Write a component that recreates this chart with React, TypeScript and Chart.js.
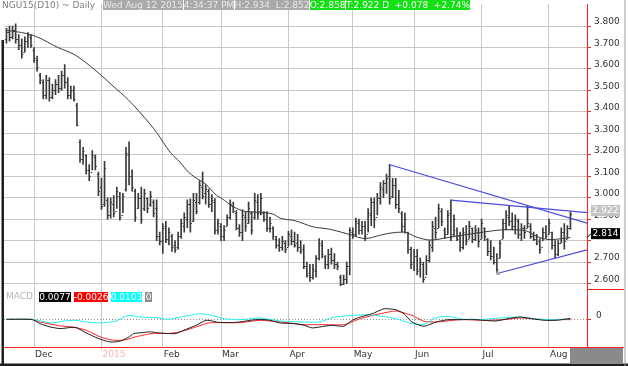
import React, { useEffect, useRef } from "react";
import { Chart, registerables } from "chart.js";

Chart.register(...registerables);

// ---------- data ----------
const monthTicks = [9, 31, 51, 70, 92, 113, 133, 155, 177];
const monthLabels = ["Dec", "2015", "Feb", "Mar", "Apr", "May", "Jun", "Jul", "Aug"];
const priceTicks = [2.6, 2.7, 2.8, 2.9, 3.0, 3.1, 3.2, 3.3, 3.4, 3.5, 3.6, 3.7, 3.8];
const macdTicks = [0];

const highs = [
  3.79, 3.8, 3.8, 3.81, 3.76, 3.74, 3.75, 3.77, 3.76, 3.7,
  3.66, 3.58, 3.55, 3.57, 3.56, 3.53, 3.55, 3.57, 3.59, 3.62,
  3.56, 3.52, 3.52, 3.44, 3.27, 3.235, 3.2, 3.155, 3.22, 3.2,
  3.12, 3.09, 3.17, 3.0, 3.0, 3.01, 3.05, 3.025, 3.02, 3.235,
  3.26, 3.13, 3.04, 3.02, 3.05, 3.04, 3.0, 3.03, 2.99, 2.99,
  2.84, 2.88, 2.89, 2.86, 2.83, 2.8, 2.84, 2.9, 2.93, 2.99,
  2.995, 3.02, 3.02, 3.08, 3.12, 3.06, 3.04, 3.015, 2.996, 2.9,
  2.88, 2.87, 2.92, 2.99, 2.98, 2.94, 2.875, 2.944, 2.935, 2.98,
  2.935, 3.02, 3.015, 3.02, 2.935, 2.935, 2.91, 2.866, 2.82, 2.81,
  2.82, 2.8, 2.843, 2.85, 2.84, 2.83, 2.8, 2.78, 2.7, 2.69,
  2.69, 2.73, 2.81, 2.8, 2.73, 2.76, 2.765, 2.74, 2.7, 2.64,
  2.64, 2.7, 2.86, 2.86, 2.905, 2.9, 2.89, 2.89, 2.95, 3.0,
  3.0, 3.02, 3.07, 3.08, 3.11, 3.155, 3.09, 3.09, 3.035, 2.935,
  2.93, 2.84, 2.77, 2.76, 2.76, 2.72, 2.7, 2.73, 2.8, 2.89,
  2.91, 2.97, 2.95, 2.86, 2.94, 2.99, 2.92, 2.86, 2.84, 2.86,
  2.87, 2.89, 2.86, 2.87, 2.86, 2.9, 2.86, 2.81, 2.8, 2.77,
  2.74, 2.8, 2.9, 2.94, 2.96, 2.93, 2.92, 2.9, 2.88, 2.87,
  2.96, 2.88, 2.84, 2.83, 2.81, 2.86, 2.87, 2.9, 2.84, 2.8,
  2.8, 2.86, 2.88, 2.87, 2.934,
];
const lows = [
  3.72, 3.73, 3.74, 3.72, 3.69, 3.65, 3.68, 3.7, 3.7, 3.63,
  3.59, 3.53, 3.46, 3.46, 3.45, 3.46, 3.48, 3.49, 3.5, 3.51,
  3.46, 3.46, 3.45, 3.335, 3.165, 3.155, 3.11, 3.08, 3.13, 3.13,
  3.01, 2.945, 2.96, 2.9, 2.905, 2.91, 2.95, 2.895, 2.93, 3.03,
  3.06, 3.03, 2.89, 2.95, 2.88, 2.94, 2.93, 2.96, 2.91, 2.8,
  2.78, 2.74, 2.79, 2.78, 2.75, 2.745, 2.76, 2.81, 2.84, 2.86,
  2.84, 2.89, 2.925, 2.97, 2.995, 2.97, 2.955, 2.935, 2.83, 2.83,
  2.8, 2.8, 2.87, 2.9, 2.93, 2.85, 2.82, 2.8, 2.843, 2.88,
  2.83, 2.9, 2.9, 2.92, 2.89, 2.843, 2.84, 2.806, 2.765, 2.75,
  2.755, 2.744, 2.774, 2.78, 2.77, 2.75, 2.74, 2.67, 2.63, 2.61,
  2.62, 2.63, 2.71, 2.72, 2.67, 2.67, 2.69, 2.67, 2.665, 2.59,
  2.595, 2.6, 2.64, 2.81, 2.82, 2.83, 2.83, 2.8, 2.84, 2.87,
  2.86, 2.92, 2.97, 3.0, 3.02, 2.97, 3.0, 2.95, 2.93, 2.84,
  2.835, 2.74, 2.67, 2.66, 2.64, 2.63, 2.605, 2.64, 2.7, 2.75,
  2.81, 2.86, 2.87, 2.81, 2.83, 2.8, 2.82, 2.8, 2.75, 2.76,
  2.78, 2.81, 2.79, 2.8, 2.77, 2.81, 2.8, 2.73, 2.71, 2.69,
  2.65, 2.72, 2.81, 2.85, 2.87, 2.85, 2.83, 2.81, 2.8, 2.81,
  2.86, 2.81, 2.8, 2.78, 2.74, 2.8, 2.81, 2.83, 2.76, 2.72,
  2.73, 2.79, 2.76, 2.81, 2.852,
];
const opens = [
  3.74, 3.77, 3.75, 3.78, 3.74, 3.71, 3.68, 3.73, 3.75, 3.69,
  3.64, 3.57, 3.54, 3.48, 3.55, 3.47, 3.5, 3.53, 3.51, 3.57,
  3.54, 3.48, 3.5, 3.43, 3.26, 3.18, 3.2, 3.13, 3.12, 3.19,
  3.11, 3.05, 2.97, 2.99, 2.92, 2.97, 2.94, 3.01, 2.92, 3.04,
  3.2, 3.1, 3.03, 2.95, 3.0, 2.95, 3.0, 2.97, 2.98, 2.95,
  2.82, 2.8, 2.87, 2.81, 2.82, 2.78, 2.77, 2.82, 2.87, 2.9,
  2.97, 2.89, 2.98, 2.98, 3.05, 3.02, 3.03, 2.97, 2.98, 2.85,
  2.87, 2.82, 2.87, 2.91, 2.96, 2.93, 2.86, 2.84, 2.91, 2.88,
  2.93, 2.91, 2.98, 2.94, 2.93, 2.9, 2.86, 2.86, 2.81, 2.78,
  2.77, 2.79, 2.77, 2.82, 2.8, 2.79, 2.77, 2.76, 2.68, 2.65,
  2.63, 2.66, 2.72, 2.78, 2.73, 2.69, 2.74, 2.71, 2.69, 2.63,
  2.6, 2.62, 2.68, 2.84, 2.83, 2.88, 2.85, 2.87, 2.83, 2.92,
  2.98, 2.91, 3.0, 3.04, 3.07, 3.1, 3.01, 3.06, 2.97, 2.93,
  2.87, 2.84, 2.76, 2.7, 2.73, 2.67, 2.69, 2.63, 2.71, 2.77,
  2.86, 2.86, 2.94, 2.85, 2.83, 2.93, 2.83, 2.85, 2.82, 2.77,
  2.83, 2.81, 2.86, 2.81, 2.84, 2.81, 2.86, 2.81, 2.75, 2.73,
  2.7, 2.72, 2.81, 2.88, 2.91, 2.89, 2.87, 2.89, 2.83, 2.86,
  2.86, 2.87, 2.82, 2.81, 2.8, 2.77, 2.84, 2.83, 2.84, 2.78,
  2.74, 2.79, 2.84, 2.81, 2.858,
];
const closes = [
  3.77, 3.75, 3.78, 3.74, 3.71, 3.67, 3.73, 3.76, 3.71, 3.65,
  3.61, 3.55, 3.48, 3.55, 3.47, 3.5, 3.53, 3.51, 3.57, 3.54,
  3.48, 3.5, 3.46, 3.34, 3.18, 3.22, 3.13, 3.1, 3.2, 3.15,
  3.03, 2.96, 3.14, 2.92, 2.98, 2.93, 3.03, 2.91, 3.01, 3.21,
  3.1, 3.05, 2.91, 3.0, 2.9, 3.02, 2.95, 3.01, 2.93, 2.82,
  2.8, 2.86, 2.81, 2.84, 2.77, 2.76, 2.82, 2.88, 2.91, 2.97,
  2.88, 2.99, 2.94, 3.06, 3.01, 3.04, 2.97, 2.99, 2.85, 2.88,
  2.82, 2.85, 2.91, 2.97, 2.94, 2.86, 2.84, 2.92, 2.87, 2.95,
  2.85, 2.99, 2.93, 3.0, 2.9, 2.86, 2.88, 2.82, 2.78, 2.77,
  2.8, 2.76, 2.83, 2.8, 2.78, 2.77, 2.75, 2.68, 2.64, 2.63,
  2.67, 2.72, 2.79, 2.74, 2.69, 2.74, 2.71, 2.69, 2.68, 2.6,
  2.62, 2.68, 2.85, 2.83, 2.89, 2.85, 2.87, 2.82, 2.93, 2.98,
  2.9, 3.0, 3.05, 3.07, 3.09, 3.0, 3.06, 2.97, 2.95, 2.87,
  2.9, 2.76, 2.69, 2.73, 2.66, 2.7, 2.62, 2.71, 2.78, 2.87,
  2.84, 2.95, 2.89, 2.83, 2.92, 2.82, 2.9, 2.81, 2.77, 2.84,
  2.8, 2.87, 2.81, 2.85, 2.8, 2.88, 2.82, 2.75, 2.73, 2.7,
  2.67, 2.79, 2.88, 2.92, 2.89, 2.87, 2.9, 2.83, 2.86, 2.84,
  2.88, 2.82, 2.81, 2.79, 2.76, 2.84, 2.82, 2.88, 2.78, 2.74,
  2.79, 2.84, 2.8, 2.86, 2.922,
];

// moving average (bar index, value)
const maX = [0, 6.6, 9.9, 16.8, 22.4, 28.9, 34.8, 39.7, 46.9, 49, 53.4, 56.6, 59.3, 63.2, 64.8, 68.6, 70.2, 74, 78.4, 81.1, 87.1, 89.3, 94.1, 100.1, 105.6, 112.1, 117, 121.9, 125.1, 129.5, 133.9, 138.2, 144.7, 155.6, 163.2, 169.2, 173, 177.4, 184];
const maY = [3.78, 3.765, 3.75, 3.7, 3.665, 3.595, 3.52, 3.457, 3.342, 3.304, 3.212, 3.166, 3.12, 3.08, 3.066, 3.01, 2.997, 2.958, 2.935, 2.933, 2.923, 2.905, 2.893, 2.864, 2.853, 2.828, 2.81, 2.825, 2.835, 2.84, 2.816, 2.803, 2.816, 2.84, 2.851, 2.847, 2.82, 2.805, 2.814];

// trend lines
const trendAX = [124.8, 189.4];
const trendAY = [3.155, 2.882];
const trendBX = [144.95, 189.4];
const trendBY = [2.989, 2.931];
const trendCX = [160.4, 189.4];
const trendCY = [2.648, 2.757];

// MACD
const macdX = [0, 8.4, 11, 14.2, 17.5, 20.7, 22.7, 26, 29.2, 32.5, 34.5, 37.1, 39.7, 41.6, 43.6, 46.9, 49.5, 52.7, 55.3, 57.9, 61.9, 65.1, 67.1, 69, 72.9, 76.2, 79.5, 82.7, 86, 89.3, 93.8, 97.1, 99.7, 102.3, 106.2, 110.1, 112.8, 115.4, 119.3, 123.2, 127.1, 129.7, 132.3, 136.2, 140.2, 144.1, 148, 151.9, 155.8, 159.7, 163.6, 167.6, 171.5, 175.4, 179.3, 184];
const macdY = [0, -0.003, -0.039, -0.069, -0.084, -0.075, -0.075, -0.123, -0.165, -0.198, -0.207, -0.198, -0.165, -0.129, -0.123, -0.114, -0.123, -0.129, -0.129, -0.099, -0.054, -0.009, -0.015, -0.027, -0.03, -0.024, -0.009, 0, -0.009, -0.033, -0.039, -0.054, -0.078, -0.069, -0.054, -0.063, -0.009, 0.021, 0.051, 0.096, 0.087, 0.051, -0.024, -0.063, -0.024, -0.003, -0.003, 0, -0.009, -0.015, 0.006, 0.021, 0.006, -0.009, -0.009, 0.008];
const signalX = [0, 8.4, 11, 17.5, 21.4, 26, 30.5, 34.5, 38.4, 42.3, 47.5, 52.7, 56.6, 61.9, 65.8, 71, 76.2, 82.7, 89.3, 97.1, 102.3, 110.1, 115.4, 121.9, 127.1, 132.3, 136.2, 140.2, 148, 155.8, 162.3, 167.6, 174.1, 184];
const signalY = [0, 0, -0.024, -0.06, -0.069, -0.099, -0.159, -0.189, -0.189, -0.159, -0.129, -0.129, -0.114, -0.069, -0.033, -0.03, -0.03, -0.009, -0.024, -0.048, -0.048, -0.048, 0.006, 0.051, 0.075, 0.036, -0.018, -0.024, -0.003, -0.009, -0.003, 0.012, 0, -0.003];
const diffX = [0, 8.4, 11, 14.9, 18.8, 22.7, 26, 30.5, 35.8, 39.7, 43.6, 48.8, 52.7, 57.9, 63.2, 67.1, 71, 76.2, 82.7, 89.3, 97.1, 102.3, 106.2, 112.8, 118, 121.9, 127.1, 132.3, 136.2, 140.2, 144.1, 149.3, 155.8, 162.3, 167.6, 174.1, 180.6, 184];
const diffY = [0, 0, -0.015, -0.033, -0.015, -0.009, -0.024, -0.033, -0.015, 0.036, 0.021, 0.015, 0, 0.027, 0.051, 0.036, 0.006, -0.003, 0.012, -0.015, -0.024, -0.024, 0.015, 0.036, 0.042, 0.03, 0.006, -0.039, -0.045, 0.015, 0.027, 0, 0, 0.015, 0.021, 0, -0.003, 0.01];

// header / legend texts
const titleText = "NGU15(D10) ~ Daily";
const headerGray = ["Wed Aug 12 2015", "4:34:37 PM", "H:2.934  L:2.852"];
const headerGreen = ["O:2.858", "T:2.922 D  +0.078  +2.74%"];
const macdLegend = ["0.0077", "-0.0026", "0.0103", "0"];
const lastPrice = 2.922;
const maLast = 2.814;

// ---------- rendering ----------
const FONT = "'DejaVu Sans', 'Liberation Sans', sans-serif";

function pts(xs: number[], ys: number[]) {
  return xs.map((x, i) => ({ x, y: ys[i] }));
}

function box(ctx: any, x: number, y: number, w: number, h: number, bg: string, fg: string, text: string) {
  ctx.fillStyle = bg;
  ctx.fillRect(x, y, w, h);
  ctx.fillStyle = fg;
  ctx.textAlign = "center";
  ctx.textBaseline = "middle";
  ctx.fillText(text, x + w / 2, y + h / 2 + 0.5);
}

const overlayPlugin = {
  id: "overlay",
  afterDatasetsDraw(chart: any) {
    const { ctx, chartArea } = chart;
    const xs = chart.scales.x;
    const ys = chart.scales.y;
    ctx.save();
    ctx.beginPath();
    ctx.rect(chartArea.left, ys.top, chartArea.right - chartArea.left, ys.bottom - ys.top);
    ctx.clip();
    ctx.strokeStyle = "#3a3a3a";
    ctx.lineWidth = 1;
    ctx.beginPath();
    for (let i = 0; i < highs.length; i++) {
      const px = xs.getPixelForValue(i);
      const yo = Math.round(ys.getPixelForValue(opens[i])) + 0.5;
      const yc = Math.round(ys.getPixelForValue(closes[i])) + 0.5;
      ctx.moveTo(px - 1.5, yo);
      ctx.lineTo(px, yo);
      ctx.moveTo(px, yc);
      ctx.lineTo(px + 1.5, yc);
    }
    ctx.stroke();
    ctx.restore();
  },
  afterDraw(chart: any) {
    const { ctx, chartArea } = chart;
    const ys = chart.scales.y;
    const W = chart.width;
    const H = chart.height;
    ctx.save();
    ctx.font = `9px ${FONT}`;

    // header
    ctx.fillStyle = "#808080";
    ctx.textAlign = "left";
    ctx.textBaseline = "middle";
    ctx.fillText(titleText, 2, 5.5);
    box(ctx, 103, 0, 80, 10, "#a9a9a9", "#e8e8e8", headerGray[0]);
    box(ctx, 184, 0, 50, 10, "#a9a9a9", "#e8e8e8", headerGray[1]);
    box(ctx, 235, 0, 74, 10, "#a9a9a9", "#e8e8e8", headerGray[2]);
    box(ctx, 310, 0, 35, 10, "#12e012", "#ffffff", headerGreen[0]);
    box(ctx, 346, 0, 124, 10, "#12e012", "#ffffff", headerGreen[1]);

    // MACD legend
    ctx.fillStyle = "#b5b5b5";
    ctx.textAlign = "left";
    ctx.fillText("MACD", 6, 297);
    box(ctx, 39, 292, 32, 10, "#000000", "#ffffff", macdLegend[0]);
    box(ctx, 74, 292, 34, 10, "#ff0000", "#ffffff", macdLegend[1]);
    box(ctx, 111, 292, 31, 10, "#00ffff", "#ffffff", macdLegend[2]);
    box(ctx, 145, 292, 7, 10, "#8c8c8c", "#ffffff", macdLegend[3]);

    // last price / MA labels on the axis
    const pLast = ys.getPixelForValue(lastPrice);
    const pMa = ys.getPixelForValue(maLast);
    ctx.strokeStyle = "#c0c0c0";
    ctx.lineWidth = 1;
    ctx.beginPath();
    ctx.moveTo(chartArea.right, pLast);
    ctx.lineTo(591, pLast - 4);
    ctx.stroke();
    box(ctx, 591, pLast - 9.5, 29, 11, "#c4c4c4", "#ffffff", lastPrice.toFixed(3));
    ctx.strokeStyle = "#000000";
    ctx.beginPath();
    ctx.moveTo(chartArea.right, pMa);
    ctx.lineTo(591, pMa - 4);
    ctx.stroke();
    box(ctx, 591, pMa - 9.5, 29, 11, "#000000", "#ffffff", maLast.toFixed(3));

    // red separators
    ctx.strokeStyle = "#ff2020";
    ctx.lineWidth = 1;
    ctx.beginPath();
    const sepY = Math.round(ys.bottom) + 0.5;
    ctx.moveTo(chartArea.right, sepY);
    ctx.lineTo(W - 4, sepY);
    const botY = Math.round(chartArea.bottom) + 0.5;
    ctx.moveTo(chartArea.left, botY);
    ctx.lineTo(W - 4, botY);
    ctx.stroke();

    // bottom-right box
    ctx.fillStyle = "#8a8a8a";
    ctx.fillRect(570, botY + 0.5, 53, 15);

    // frame
    ctx.fillStyle = "#1e1e1e";
    ctx.fillRect(1.5, 40, 2.5, H - 40);
    ctx.fillRect(0, H - 2.5, W, 2.5);
    ctx.fillStyle = "#a0a0a0";
    ctx.fillRect(W - 3.5, 0, 1, H);
    ctx.restore();
  },
};

export default function App() {
  const ref = useRef<HTMLCanvasElement>(null);
  useEffect(() => {
    document.body.style.margin = "0";
    const canvas = ref.current as HTMLCanvasElement;
    const bars = highs.map((h, i) => ({ x: i, y: [lows[i], h] }));
    const chart = new Chart(canvas, {
      type: "line",
      data: {
        datasets: [
          {
            type: "bar",
            data: bars as any,
            yAxisID: "y",
            backgroundColor: "#3a3a3a",
            barThickness: 1,
            borderWidth: 0,
            order: 3,
          } as any,
          {
            type: "line",
            data: pts(maX, maY),
            yAxisID: "y",
            borderColor: "#3a3a3a",
            borderWidth: 1,
            pointRadius: 0,
            cubicInterpolationMode: "monotone",
            order: 2,
          },
          {
            type: "line",
            data: pts(trendAX, trendAY),
            yAxisID: "y",
            borderColor: "#4a4ae0",
            borderWidth: 1.2,
            pointRadius: 0,
            order: 1,
          },
          {
            type: "line",
            data: pts(trendBX, trendBY),
            yAxisID: "y",
            borderColor: "#4a4ae0",
            borderWidth: 1.2,
            pointRadius: 0,
            order: 1,
          },
          {
            type: "line",
            data: pts(trendCX, trendCY),
            yAxisID: "y",
            borderColor: "#4a4ae0",
            borderWidth: 1.2,
            pointRadius: [2.5, 0],
            pointStyle: "rect",
            pointBackgroundColor: "#a8a8a8",
            pointBorderColor: "#a8a8a8",
            pointBorderWidth: 0,
            order: 1,
          },
          {
            type: "line",
            data: pts(diffX, diffY),
            yAxisID: "macd",
            borderColor: "#20f0f0",
            borderWidth: 1,
            pointRadius: 0,
            tension: 0.2,
            order: 1,
          },
          {
            type: "line",
            data: pts(signalX, signalY),
            yAxisID: "macd",
            borderColor: "#ff2020",
            borderWidth: 1,
            pointRadius: 0,
            tension: 0.2,
            order: 1,
          },
          {
            type: "line",
            data: pts(macdX, macdY),
            yAxisID: "macd",
            borderColor: "#202020",
            borderWidth: 1,
            pointRadius: 0,
            tension: 0.2,
            order: 0,
          },
        ],
      },
      options: {
        responsive: false,
        animation: false,
        events: [],
        layout: { padding: { left: 4, right: 0, top: 0, bottom: 0 } },
        plugins: { legend: { display: false }, tooltip: { enabled: false } },
        scales: {
          x: {
            type: "linear",
            min: -0.8,
            max: 189.4,
            offset: false,
            afterBuildTicks: (s: any) => {
              s.ticks = monthTicks.map((v) => ({ value: v }));
            },
            afterFit: (s: any) => {
              s.height = 19.3;
              s.paddingLeft = 0;
              s.paddingRight = 0;
            },
            grid: {
              color: "#c8c8c8",
              lineWidth: 1,
              drawTicks: true,
              tickLength: 3,
              tickColor: (c: any) => (c.index === 1 ? "#f0d000" : "rgba(0,0,0,0)"),
              offset: false,
            },
            border: { display: false },
            ticks: {
              autoSkip: false,
              maxRotation: 0,
              align: "start",
              labelOffset: 1,
              padding: 0,
              font: { family: FONT, size: 9 },
              color: (c: any) => (c.index === 1 ? "#ffb0b0" : "#333333"),
              callback: (_v: any, i: number) => monthLabels[i],
            },
          },
          y: {
            type: "linear",
            position: "right",
            stack: "panels",
            stackWeight: 288,
            min: 2.5762,
            max: 3.9027,
            offset: false,
            afterBuildTicks: (s: any) => {
              s.ticks = priceTicks.map((v) => ({ value: v }));
            },
            afterFit: (s: any) => {
              s.width = 41;
              s.paddingTop = 0;
              s.paddingBottom = 0;
            },
            grid: { color: "#c8c8c8", lineWidth: 1, tickLength: 4, tickColor: "#ff2020" },
            border: { display: true, color: "#ff2020", width: 1 },
            ticks: {
              autoSkip: false,
              padding: 3,
              labelOffset: -4,
              font: { family: FONT, size: 9 },
              color: "#333333",
              callback: (v: any) => Number(v).toFixed(3),
            },
          },
          macd: {
            type: "linear",
            position: "right",
            stack: "panels",
            stackWeight: 58.7,
            min: -0.249,
            max: 0.279,
            offset: false,
            afterBuildTicks: (s: any) => {
              s.ticks = macdTicks.map((v) => ({ value: v }));
            },
            afterFit: (s: any) => {
              s.width = 41;
              s.paddingTop = 0;
              s.paddingBottom = 0;
            },
            grid: { color: "#909090", lineWidth: 1, tickLength: 4, tickColor: "#ff2020" },
            border: { display: true, color: "#ff2020", width: 1, dash: [1, 2] },
            ticks: {
              autoSkip: false,
              padding: 5,
              labelOffset: -4,
              font: { family: FONT, size: 9 },
              color: "#333333",
              callback: (v: any) => String(v),
            },
          },
        },
      } as any,
      plugins: [overlayPlugin],
    });
    return () => chart.destroy();
  }, []);
  return (
    <div style={{ position: "fixed", left: 0, top: 0, width: 628, height: 366, background: "#ffffff" }}>
      <canvas ref={ref} width={628} height={366} style={{ display: "block" }} />
    </div>
  );
}
